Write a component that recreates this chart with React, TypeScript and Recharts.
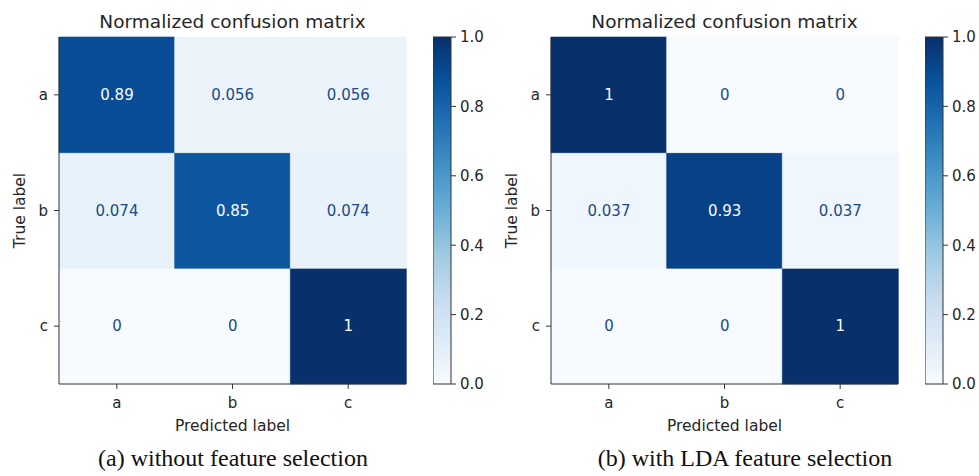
import { Bar, BarChart, Cell, LabelList, XAxis, YAxis } from 'recharts';

const predictedLabels = ['a', 'b', 'c'];
const trueLabels = ['a', 'b', 'c'];

// rows = true label, columns = predicted label
const matrixWithout = [
  [0.89, 0.056, 0.056],
  [0.074, 0.85, 0.074],
  [0, 0, 1],
];
const matrixLda = [
  [1, 0, 0],
  [0.037, 0.93, 0.037],
  [0, 0, 1],
];

const colorbarRange = [0, 1];
const colorbarTicks = [0, 0.2, 0.4, 0.6, 0.8, 1.0];

const titleText = 'Normalized confusion matrix';
const xTitle = 'Predicted label';
const yTitle = 'True label';
const captions = ['(a) without feature selection', '(b) with LDA feature selection'];

// matplotlib "Blues"
const BLUES = ['#f7fbff', '#deebf7', '#c6dbef', '#9ecae1', '#6baed6', '#4292c6', '#2171b5', '#08519c', '#08306b'];

const FRAME = '#333';
const TICK_TEXT = '#262626';
const DARK_VALUE = '#1d4a88';

function hexToRgb(h: string) {
  const n = parseInt(h.slice(1), 16);
  return [(n >> 16) & 255, (n >> 8) & 255, n & 255];
}

function blues(v: number) {
  const t = Math.max(0, Math.min(1, v)) * (BLUES.length - 1);
  const i = Math.min(Math.floor(t), BLUES.length - 2);
  const f = t - i;
  const a = hexToRgb(BLUES[i]);
  const b = hexToRgb(BLUES[i + 1]);
  const c = a.map((x, k) => Math.round(x + (b[k] - x) * f));
  return `rgb(${c[0]},${c[1]},${c[2]})`;
}

const fmt = (v: number) => String(Number(v.toPrecision(2)));

function MatrixPanel({ matrix, left }: { matrix: number[][]; left: number }) {
  const n = trueLabels.length;
  const table = predictedLabels.map((p, j) => {
    const row: Record<string, string | number> = { pred: p };
    trueLabels.forEach((t, i) => {
      row[`h_${t}`] = 1;
      row[`v_${t}`] = matrix[i][j];
    });
    return row;
  });
  const rowTicks = trueLabels.map((_, i) => i + 0.5);

  return (
    <div style={{ position: 'absolute', left, top: 0 }}>
      <BarChart
        width={420}
        height={440}
        data={table}
        margin={{ top: 37, right: 14, bottom: 0, left: 0 }}
        barCategoryGap={0}
        barGap={0}
      >
        <XAxis
          dataKey="pred"
          height={56}
          tickSize={5}
          tickMargin={8}
          stroke={FRAME}
          tick={{ fill: TICK_TEXT, fontSize: 15 }}
          label={{
            value: xTitle,
            content: (p: any) => {
              const cx = p.viewBox.x + p.viewBox.width / 2;
              return (
                <g>
                  <text x={cx} y={p.viewBox.y + 47} textAnchor="middle" fill={TICK_TEXT} fontSize={15.5}>
                    {xTitle}
                  </text>
                  <text x={cx} y={28} textAnchor="middle" fill={TICK_TEXT} fontSize={18.5}>
                    {titleText}
                  </text>
                </g>
              );
            },
          }}
        />
        <XAxis
          xAxisId="top"
          orientation="top"
          dataKey="pred"
          height={0}
          tick={false}
          tickLine={false}
          stroke={FRAME}
        />
        <YAxis
          type="number"
          domain={[0, n]}
          ticks={rowTicks}
          interval={0}
          width={59}
          tickSize={5}
          tickMargin={6}
          stroke={FRAME}
          tick={{ fill: TICK_TEXT, fontSize: 15 }}
          tickFormatter={(v: number) => trueLabels[n - 1 - Math.floor(v)]}
          label={{
            value: yTitle,
            content: (p: any) => {
              const cx = 20;
              const cy = p.viewBox.y + p.viewBox.height / 2;
              return (
                <text
                  x={cx}
                  y={cy}
                  transform={`rotate(-90 ${cx} ${cy})`}
                  textAnchor="middle"
                  dominantBaseline="central"
                  fill={TICK_TEXT}
                  fontSize={15.5}
                >
                  {yTitle}
                </text>
              );
            },
          }}
        />
        <YAxis
          yAxisId="right"
          orientation="right"
          type="number"
          domain={[0, n]}
          width={0}
          tick={false}
          tickLine={false}
          stroke={FRAME}
        />
        {[...trueLabels].reverse().map((t) => (
          <Bar key={t} dataKey={`h_${t}`} stackId="m" isAnimationActive={false}>
            {table.map((r, k) => {
              const c = blues(Number(r[`v_${t}`]));
              return <Cell key={k} fill={c} stroke={c} strokeWidth={0.6} />;
            })}
            <LabelList
              dataKey={`v_${t}`}
              content={(p: any) => {
                const v = Number(p.value);
                return (
                  <text
                    x={Number(p.x) + Number(p.width) / 2}
                    y={Number(p.y) + Number(p.height) / 2}
                    textAnchor="middle"
                    dominantBaseline="central"
                    fill={v > 0.5 ? BLUES[0] : DARK_VALUE}
                    fontSize={15}
                  >
                    {fmt(v)}
                  </text>
                );
              }}
            />
          </Bar>
        ))}
      </BarChart>
    </div>
  );
}

function Colorbar({ left, id }: { left: number; id: string }) {
  return (
    <div style={{ position: 'absolute', left, top: 0 }}>
      <BarChart
        width={60}
        height={440}
        data={[{ k: 'scale', v: colorbarRange[1] }]}
        margin={{ top: 37, right: 0, bottom: 56, left: 0 }}
        barCategoryGap={0}
      >
        <defs>
          <linearGradient id={id} x1="0" y1="1" x2="0" y2="0">
            {BLUES.map((c, i) => (
              <stop key={i} offset={i / (BLUES.length - 1)} stopColor={c} />
            ))}
          </linearGradient>
        </defs>
        <XAxis dataKey="k" hide height={0} />
        <YAxis
          orientation="right"
          type="number"
          domain={colorbarRange}
          ticks={colorbarTicks}
          interval={0}
          width={42}
          axisLine={false}
          tickSize={5}
          tickMargin={4}
          stroke={FRAME}
          tick={{ fill: TICK_TEXT, fontSize: 15, textAnchor: 'start' }}
          tickFormatter={(v: number) => Number(v).toFixed(1)}
        />
        <Bar dataKey="v" fill={`url(#${id})`} stroke={FRAME} isAnimationActive={false} />
      </BarChart>
    </div>
  );
}

function Caption({ text, center }: { text: string; center: number }) {
  return (
    <div
      style={{
        position: 'absolute',
        left: center - 200,
        top: 446,
        width: 400,
        textAlign: 'center',
        fontFamily: '"Liberation Serif", serif',
        fontSize: 24,
        lineHeight: '24px',
        color: '#111',
      }}
    >
      {text}
    </div>
  );
}

export default function App() {
  return (
    <div
      style={{
        position: 'absolute',
        left: 0,
        top: 0,
        width: 979,
        height: 476,
        overflow: 'hidden',
        background: '#fff',
        fontFamily: '"DejaVu Sans", sans-serif',
      }}
    >
      <MatrixPanel matrix={matrixWithout} left={0} />
      <Colorbar left={433} id="blues-a" />
      <MatrixPanel matrix={matrixLda} left={492} />
      <Colorbar left={925} id="blues-b" />
      <Caption text={captions[0]} center={233} />
      <Caption text={captions[1]} center={745} />
    </div>
  );
}
